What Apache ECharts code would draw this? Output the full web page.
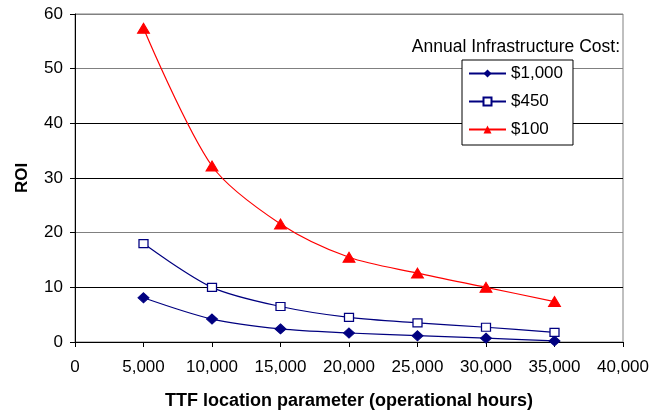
<!DOCTYPE html>
<html>
<head>
<meta charset="utf-8">
<script src="https://cdn.jsdelivr.net/npm/echarts@6/dist/echarts.min.js"></script>
<style>
  html, body { margin: 0; padding: 0; background: #fff; }
  #chart { width: 665px; height: 413px; }
</style>
</head>
<body>
<div id="chart"></div>
<script>
// TTF location parameter (operational hours)
const hours = [5000, 10000, 15000, 20000, 25000, 30000, 35000];

// ROI per annual infrastructure cost
const roi1000 = [8.1, 4.2, 2.4, 1.65, 1.15, 0.7, 0.2];
const roi450 = [18.0, 10.0, 6.5, 4.5, 3.5, 2.7, 1.75];
const roi100 = [57.4, 32.2, 21.6, 15.5, 12.6, 10.0, 7.4];

const seriesNames = ['$1,000', '$450', '$100'];

const FONT = 'Liberation Sans, Arial, sans-serif';
const pairs = vals => hours.map((h, i) => [h, vals[i]]);

const chart = echarts.init(document.getElementById('chart'), null, { renderer: 'canvas' });

chart.setOption({
  animation: false,
  backgroundColor: '#fff',
  textStyle: { fontFamily: FONT },
  grid: {
    left: 75, right: 42, top: 14, bottom: 71,
    outerBoundsMode: 'none', containLabel: false,
    show: true, borderColor: '#808080', borderWidth: 1
  },
  xAxis: {
    type: 'value',
    min: 0, max: 40000, interval: 5000,
    name: 'TTF location parameter (operational hours)',
    nameLocation: 'middle',
    nameGap: 50,
    nameTextStyle: { fontFamily: FONT, fontSize: 18, fontWeight: 'bold', color: '#000' },
    axisLine: { show: true, onZero: false, lineStyle: { color: '#000', width: 1 } },
    axisTick: { show: true, length: 5, lineStyle: { color: '#000' } },
    axisLabel: {
      fontFamily: FONT, fontSize: 17, color: '#000', margin: 17,
      formatter: v => v.toLocaleString('en-US')
    },
    splitLine: { show: false }
  },
  yAxis: {
    type: 'value',
    min: 0, max: 60, interval: 10,
    name: 'ROI',
    nameLocation: 'middle',
    nameGap: 44,
    nameTextStyle: { fontFamily: FONT, fontSize: 17, fontWeight: 'bold', color: '#000' },
    axisLine: { show: true, lineStyle: { color: '#000', width: 1 } },
    axisTick: { show: true, length: 5, lineStyle: { color: '#000' } },
    axisLabel: { fontFamily: FONT, fontSize: 17, color: '#000', margin: 12 },
    splitLine: {
      show: true,
      lineStyle: { color: ['#000', '#000', '#808080', '#000', '#000', '#808080', '#808080'], width: 1 }
    }
  },
  legend: {
    data: seriesNames,
    orient: 'vertical',
    left: 462, top: 60,
    width: 111,
    padding: [5, 10, 7, 6],
    itemGap: 11,
    itemWidth: 37, itemHeight: 10,
    backgroundColor: '#fff',
    borderColor: '#000', borderWidth: 1,
    borderRadius: 0,
    textStyle: { fontFamily: FONT, fontSize: 17, color: '#000' }
  },
  graphic: [{
    type: 'text',
    right: 45, top: 38,
    style: { text: 'Annual Infrastructure Cost:', font: '17.5px ' + FONT, fill: '#000' }
  }],
  series: [
    {
      name: seriesNames[0], type: 'line', data: pairs(roi1000), smooth: 0.3,
      symbol: 'diamond', symbolSize: [11, 10],
      lineStyle: { color: '#000080', width: 1.2 },
      itemStyle: { color: '#000080', borderColor: '#000080' }
    },
    {
      name: seriesNames[1], type: 'line', data: pairs(roi450), smooth: 0.3,
      symbol: 'rect', symbolSize: [9, 8],
      lineStyle: { color: '#000080', width: 1.2 },
      itemStyle: { color: '#fff', borderColor: '#000080', borderWidth: 1.2 }
    },
    {
      name: seriesNames[2], type: 'line', data: pairs(roi100), smooth: 0.3,
      symbol: 'triangle', symbolSize: [12, 10],
      lineStyle: { color: '#ff0000', width: 1.2 },
      itemStyle: { color: '#ff0000', borderColor: '#ff0000' }
    }
  ]
});
</script>
</body>
</html>
